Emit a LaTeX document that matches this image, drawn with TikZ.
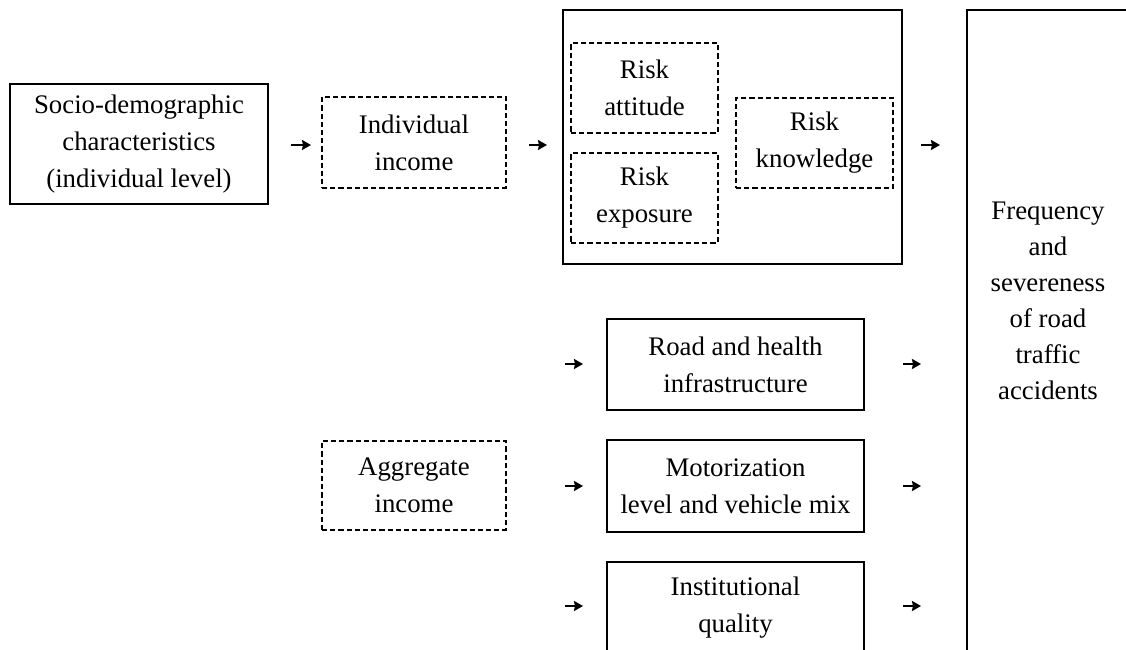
\documentclass[tikz,border=0pt]{standalone}
\usepackage{fontspec}
\setmainfont{Liberation Serif}
\usepackage{tikz}
\usetikzlibrary{positioning,calc,arrows.meta}

\begin{document}
\begin{tikzpicture}[x=0.5pt,y=-0.5pt]
  \tikzstyle{solidbox}=[rectangle,draw=black,line width=0.9pt,align=center,inner sep=0pt,font=\fontsize{13.4}{18.5}\selectfont]
  \tikzstyle{dashbox}=[solidbox,line width=0.75pt,dash pattern=on 2.6pt off 1.5pt]
  \tikzstyle{arr}=[line width=1.1pt,-{Stealth[length=4.5pt,width=5pt,inset=0.5pt]}]
  \clip (0,0) rectangle (1126,649);
  \coordinate (c) at (0,0);

  % individual level
  \draw (c)++(139,144) node[solidbox,minimum width=129pt,minimum height=60pt] (S){Socio-demographic\\characteristics\\(individual level)};
  \draw (c)++(414,142.5) node[dashbox,minimum width=92pt,minimum height=45.5pt] (I){Individual\\income};

  \draw (c)++(732.5,137) node[solidbox,minimum width=169.5pt,minimum height=127pt] (R){};
  \draw (c)++(644.5,88) node[dashbox,minimum width=73.5pt,minimum height=45pt] (RA){Risk\\attitude};
  \draw (c)++(644.5,198) node[dashbox,minimum width=73.5pt,minimum height=45pt] (RE){Risk\\exposure};
  \draw (c)++(814.5,143) node[dashbox,minimum width=78.5pt,minimum height=45pt] (RK){Risk\\knowledge};

  % outcome
  \draw (c)++(1053,340) node[solidbox,minimum width=86pt,minimum height=330pt] (F){};
  \draw (c)++(1048,301) node[solidbox,draw=none,font=\fontsize{13.4}{18}\selectfont] (FT){Frequency\\and\\severeness\\of road\\traffic\\accidents};

  % aggregate level
  \draw (c)++(414,485.5) node[dashbox,minimum width=92pt,minimum height=44.5pt] (A){Aggregate\\income};
  \draw (c)++(735.5,364.5) node[solidbox,minimum width=128.5pt,minimum height=45.5pt] (RH){Road and health\\infrastructure};
  \draw (c)++(735.5,486) node[solidbox,minimum width=128.5pt,minimum height=46pt] (MV){Motorization\\level and vehicle mix};
  \draw (c)++(735.5,608) node[solidbox,minimum width=128.5pt,minimum height=46pt] (IQ){Institutional\\quality};

  % small arrows
  \foreach \n/\xa/\xb/\y in {a/291/311/145,b/529/547/145,c/921/940/145,d/565/583/364,e/903/921/364,f/565/583/486,g/903/921/486,h/565/583/606,i/903/921/606}{
    \coordinate (\n1) at (\xa,\y);
    \coordinate (\n2) at (\xb,\y);
    \draw[arr] (\n1) -- (\n2);
  }
\end{tikzpicture}
\end{document}
